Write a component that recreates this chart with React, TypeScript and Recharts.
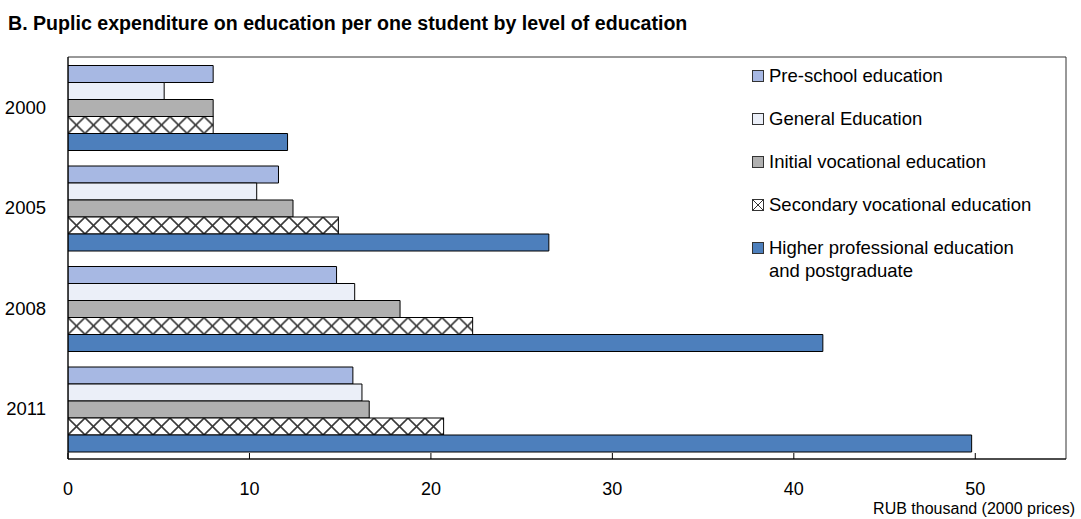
import { Bar, BarChart, Label, Legend, ReferenceArea, XAxis, YAxis } from 'recharts';

const years = ['2000', '2005', '2008', '2011'];
const preSchool = [8.0, 11.6, 14.8, 15.7];
const general = [5.3, 10.4, 15.8, 16.2];
const initialVoc = [8.0, 12.4, 18.3, 16.6];
const secondaryVoc = [8.0, 14.9, 22.3, 20.7];
const higher = [12.1, 26.5, 41.6, 49.8];
const xTicks = [0, 10, 20, 30, 40, 50];
const unitLabel = 'RUB thousand (2000 prices)';

const FONT = '"Liberation Sans", Arial, sans-serif';

const series = [
  { key: 'pre', name: 'Pre-school education', fill: '#a7b8e3' },
  { key: 'gen', name: 'General Education', fill: '#ebeff8' },
  { key: 'ini', name: 'Initial vocational education', fill: '#b0b0b0' },
  { key: 'sec', name: 'Secondary vocational education', fill: 'hatch' },
  { key: 'hig', name: 'Higher professional education\nand postgraduate', fill: '#4d7fbc' },
];

const data = years.map((year, i) => ({
  year,
  pre: preSchool[i],
  gen: general[i],
  ini: initialVoc[i],
  sec: secondaryVoc[i],
  hig: higher[i],
}));

// cross-hatched bar, pattern anchored on the bar so the X's line up
const HatchBar = (props: any) => {
  const { x, y, width, height, index } = props;
  if (!width || width <= 0) return null;
  const id = `hatch-${index}`;
  return (
    <g>
      <defs>
        <pattern id={id} patternUnits="userSpaceOnUse" x={x} y={y} width={17} height={height}>
          <rect width={17} height={height} fill="#fff" />
          <line x1={0} y1={0} x2={17} y2={height} stroke="#3a3a3a" strokeWidth={1.6} />
          <line x1={17} y1={0} x2={0} y2={height} stroke="#3a3a3a" strokeWidth={1.6} />
        </pattern>
      </defs>
      <rect x={x} y={y} width={width} height={height} fill={`url(#${id})`} stroke="#000" strokeWidth={1} />
    </g>
  );
};

const XTick = (props: any) => {
  const { x, y, payload } = props;
  return (
    <g>
      <line x1={x} y1={y - 6} x2={x} y2={y} stroke="#000" strokeWidth={1} />
      <text x={x} y={y + 36} textAnchor="middle" fontSize={18} fontFamily={FONT} fill="#000">
        {payload.value}
      </text>
    </g>
  );
};

const UnitLabel = (props: any) => {
  const { viewBox } = props;
  return (
    <text
      x={viewBox.x + viewBox.width + 9}
      y={viewBox.y + 55}
      textAnchor="end"
      fontSize={16}
      fontFamily={FONT}
      fill="#000"
    >
      {unitLabel}
    </text>
  );
};

const Swatch = ({ fill }: { fill: string }) => (
  <svg width={12} height={12} style={{ flex: 'none', marginTop: 6, marginRight: 5 }}>
    {fill === 'hatch' ? (
      <g>
        <rect x={0.5} y={0.5} width={11} height={11} fill="#fff" stroke="#333" />
        <line x1={1} y1={1} x2={11} y2={11} stroke="#333" />
        <line x1={11} y1={1} x2={1} y2={11} stroke="#333" />
      </g>
    ) : (
      <rect x={0.5} y={0.5} width={11} height={11} fill={fill} stroke="#333" />
    )}
  </svg>
);

const LegendBox = () => (
  <div style={{ fontFamily: FONT, fontSize: 18.5, color: '#000' }}>
    {series.map((s) => (
      <div key={s.key} style={{ display: 'flex', alignItems: 'flex-start', marginBottom: 20 }}>
        <Swatch fill={s.fill} />
        <span style={{ whiteSpace: 'pre-line', lineHeight: '23px' }}>{s.name}</span>
      </div>
    ))}
  </div>
);

export default function App() {
  return (
    <div style={{ position: 'absolute', left: 0, top: 0, width: 1081, height: 519, background: '#fff' }}>
      <div
        style={{
          position: 'absolute',
          left: 8,
          top: 12,
          fontFamily: FONT,
          fontWeight: 'bold',
          fontSize: 19.6,
          color: '#000',
          whiteSpace: 'nowrap',
        }}
      >
        B. Puplic expenditure on education per one student by level of education
      </div>
      <BarChart
        width={1081}
        height={519}
        data={data}
        layout="vertical"
        margin={{ top: 57, right: 15, bottom: 20, left: 8 }}
        barCategoryGap={8.5}
        barGap={0}
      >
        <XAxis
          type="number"
          domain={[0, 55]}
          ticks={xTicks}
          allowDataOverflow
          height={40}
          axisLine={{ stroke: '#000', strokeWidth: 1 }}
          tickLine={false}
          tickSize={0}
          tickMargin={0}
          tick={<XTick />}
        >
          <Label content={<UnitLabel />} />
        </XAxis>
        <YAxis
          type="category"
          dataKey="year"
          width={60}
          axisLine={{ stroke: '#000', strokeWidth: 1 }}
          tickLine={false}
          tickSize={0}
          tickMargin={22}
          tick={{ fontSize: 18.5, fontFamily: FONT, fill: '#000' }}
        />
        {series.map((s) =>
          s.fill === 'hatch' ? (
            <Bar key={s.key} dataKey={s.key} name={s.name} fill="#fff" shape={<HatchBar />} isAnimationActive={false} />
          ) : (
            <Bar
              key={s.key}
              dataKey={s.key}
              name={s.name}
              fill={s.fill}
              stroke="#000"
              strokeWidth={1}
              isAnimationActive={false}
            />
          )
        )}
        <ReferenceArea x1={0} x2={55} fill="none" stroke="#333" strokeWidth={1} ifOverflow="visible" />
        <Legend
          content={<LegendBox />}
          layout="vertical"
          align="center"
          verticalAlign="middle"
          wrapperStyle={{ position: 'absolute', left: 752, top: 64, width: 320 }}
        />
      </BarChart>
    </div>
  );
}
